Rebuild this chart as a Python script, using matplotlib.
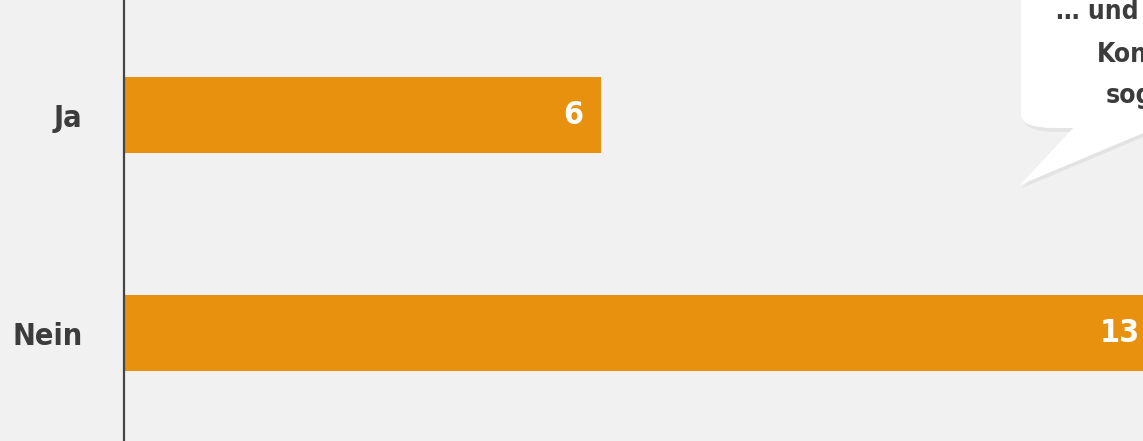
import matplotlib.pyplot as plt
from matplotlib.patches import FancyBboxPatch, Polygon

# data
categories = ['Nein', 'Ja']
values = [13, 6]
bubble_lines = ['… und i', 'Kon', 'sog']

bar_color = '#E8910E'
bg = '#F1F1F1'
text_color = '#3C3C3C'
plt.rcParams['font.family'] = ['DejaVu Sans']
plt.rcParams['font.stretch'] = 'condensed'

fig = plt.figure(figsize=(11.43, 4.41), dpi=100, facecolor=bg)
ax = fig.add_axes([124 / 1143, 0, 1 - 124 / 1143, 1])
ax.set_facecolor('none')

y = list(range(len(categories)))
ax.barh(y, values, height=0.35, color=bar_color, zorder=2)
for yi, v in zip(y, values):
    ax.text(v - 0.22, yi, str(v), ha='right', va='center', color='white',
            fontsize=23, fontweight='bold', zorder=3)

ax.set_xlim(0, (1143 - 124) / 79.5)
ax.set_ylim(-0.495, 1.528)
ax.set_yticks(y)
ax.set_yticklabels(categories, fontsize=22, fontweight='bold', color=text_color)
ax.tick_params(axis='y', length=0, pad=30)
ax.set_xticks([])
for s in ['top', 'right', 'bottom']:
    ax.spines[s].set_visible(False)
ax.spines['left'].set_color('#444444')
ax.spines['left'].set_linewidth(1.6)

# speech bubble in top right corner
W, H = 1143, 441
def fx(px):
    return px / W
def fy(py):
    return 1 - py / H

shadow_tail = Polygon([(fx(1078), fy(130)), (fx(1022), fy(188)), (fx(1160), fy(130))],
                      closed=True, transform=fig.transFigure, facecolor='#DADADA',
                      edgecolor='none', zorder=4, alpha=0.6)
fig.patches.append(shadow_tail)
shadow = FancyBboxPatch((fx(1024), fy(132)), fx(300), fy(-60) - fy(132),
                        boxstyle='round,pad=0,rounding_size=0.03',
                        transform=fig.transFigure, facecolor='#DDDDDD',
                        edgecolor='none', zorder=4, alpha=0.6)
fig.patches.append(shadow)
tail = Polygon([(fx(1075), fy(126)), (fx(1020), fy(185)), (fx(1160), fy(126))],
               closed=True, transform=fig.transFigure, facecolor='white',
               edgecolor='none', zorder=5)
fig.patches.append(tail)
box = FancyBboxPatch((fx(1021), fy(128)), fx(300), fy(-60) - fy(128),
                     boxstyle='round,pad=0,rounding_size=0.03',
                     transform=fig.transFigure, facecolor='white',
                     edgecolor='none', zorder=5)
fig.patches.append(box)
for line, py, px in zip(bubble_lines, [12, 55, 96], [1056, 1097, 1106]):
    fig.text(fx(px), fy(py), line, fontsize=19, fontweight='bold',
             color=text_color, ha='left', va='center', zorder=6)

fig.savefig('out.png', dpi=100, facecolor=bg)
